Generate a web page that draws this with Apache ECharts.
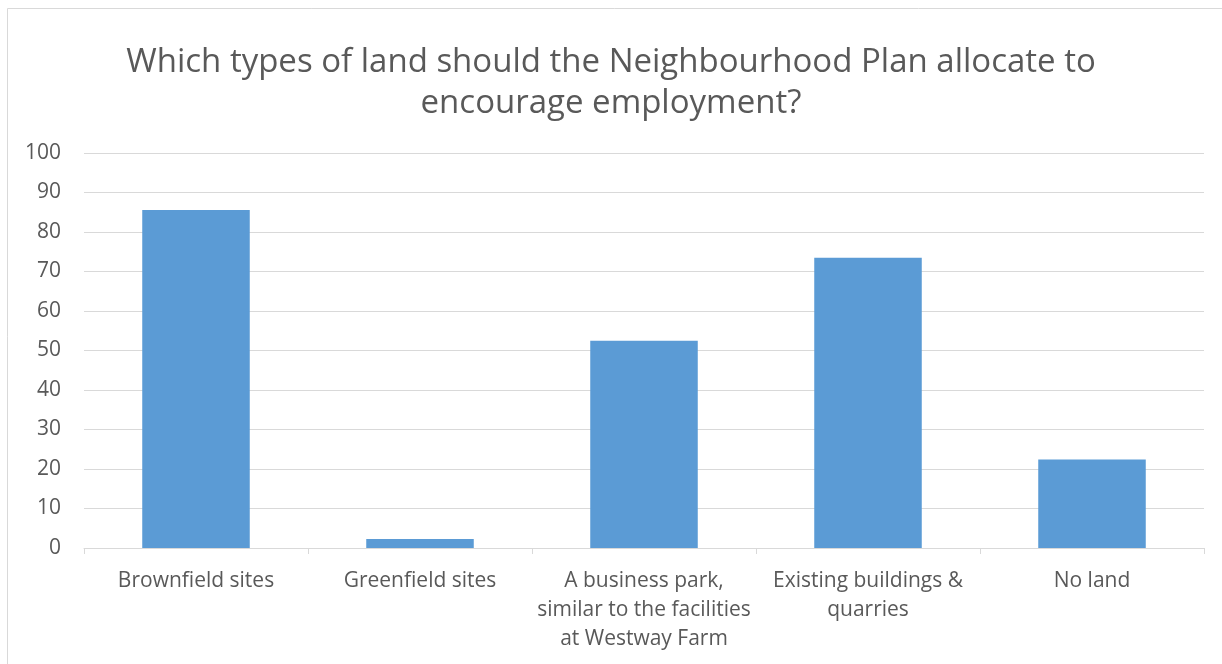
<!DOCTYPE html>
<html><head><meta charset="utf-8">
<script src="https://cdn.jsdelivr.net/npm/echarts@6/dist/echarts.min.js"></script>
<style>html,body{margin:0;padding:0;background:#fff}#c{width:1222px;height:664px}</style>
</head><body><div id="c"></div>
<script>
const categories = ["Brownfield sites", "Greenfield sites", "A business park,\nsimilar to the facilities\nat Westway Farm", "Existing buildings &\nquarries", "No land"];
const values = [85.6, 2.3, 52.5, 73.5, 22.4];
const titleText = "Which types of land should the Neighbourhood Plan allocate to\nencourage employment?";
const yTicks = { min: 0, max: 100, interval: 10 };
const font = "'Open Sans', 'Liberation Sans', sans-serif";
const chart = echarts.init(document.getElementById('c'), null, {renderer: 'canvas'});
chart.setOption({
  animation: false,
  backgroundColor: '#fff',
  title: {
    text: titleText, left: 'center', top: 37,
    textStyle: { fontFamily: font, fontSize: 33, fontWeight: 'normal', color: '#595959', lineHeight: 41 }
  },
  graphic: [
    { type: 'line', shape: { x1: 7.5, y1: 8.5, x2: 1222, y2: 8.5 }, style: { stroke: '#d9d9d9', lineWidth: 1 } },
    { type: 'line', shape: { x1: 7.5, y1: 8.5, x2: 7.5, y2: 664 }, style: { stroke: '#d9d9d9', lineWidth: 1 } }
  ],
  grid: { left: 84, right: 18, top: 153, bottom: 116, containLabel: false },
  xAxis: {
    type: 'category', data: categories,
    axisLine: { lineStyle: { color: '#d9d9d9', width: 1 } },
    axisTick: { show: true, length: 6, lineStyle: { color: '#d9d9d9' } },
    axisLabel: { fontFamily: font, fontSize: 21, color: '#595959', margin: 19, lineHeight: 29, interval: 0 }
  },
  yAxis: {
    type: 'value', min: yTicks.min, max: yTicks.max, interval: yTicks.interval,
    axisLine: { show: false }, axisTick: { show: false },
    splitLine: { lineStyle: { color: '#d9d9d9', width: 1 } },
    axisLabel: { fontFamily: font, fontSize: 21, color: '#595959', margin: 23 }
  },
  series: [{
    type: 'bar', data: values, barWidth: '48%',
    itemStyle: { color: '#5b9bd5' }
  }]
});
</script></body></html>
